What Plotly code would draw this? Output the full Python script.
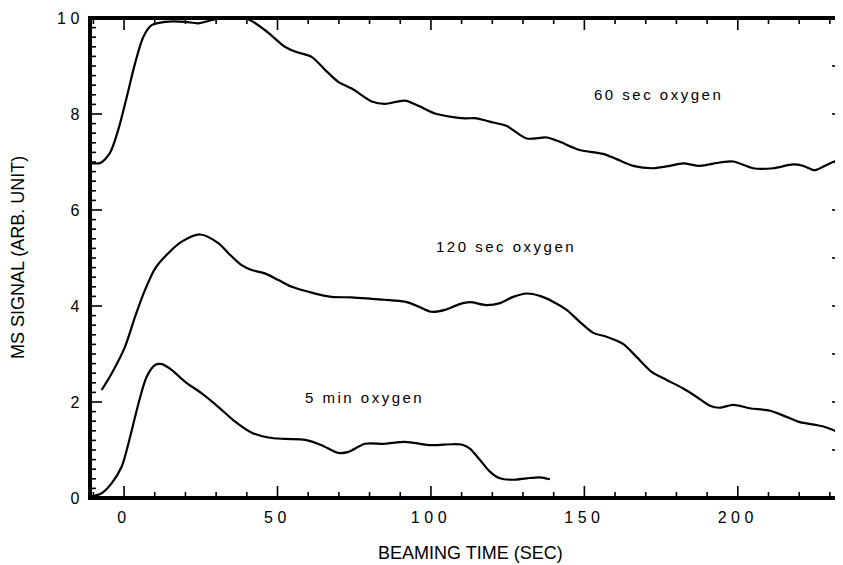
import plotly.graph_objects as go

# ---- data ----
t_60 = [-11.0, -7.8, -4.6, -1.9, 0.9, 3.6, 6.3, 9.0, 13.4, 19.9, 24.2, 29.6, 35.1, 40.5, 45.9,
        52.4, 55.7, 61.1, 65.5, 69.8, 74.2, 80.7, 85.0, 91.5, 95.9, 101.3, 106.7, 111.1, 114.9,
        119.2, 124.7, 131.2, 137.7, 142.0, 148.5, 156.1, 160.5, 165.9, 172.4, 177.9, 182.2,
        187.6, 194.1, 198.5, 205.0, 211.5, 218.0, 221.3, 225.1, 228.9, 233.2]
s_60 = [6.98, 6.98, 7.19, 7.67, 8.36, 9.06, 9.61, 9.85, 9.92, 9.92, 9.89, 9.97, 9.99, 9.97, 9.75,
        9.40, 9.30, 9.19, 8.92, 8.67, 8.53, 8.26, 8.21, 8.28, 8.17, 8.01, 7.94, 7.91, 7.91,
        7.84, 7.75, 7.49, 7.51, 7.42, 7.25, 7.17, 7.06, 6.92, 6.87, 6.92, 6.97,
        6.92, 6.99, 7.01, 6.87, 6.87, 6.95, 6.92, 6.83, 6.94, 7.06]

t_120 = [-7.3, -4.0, 0.3, 3.6, 6.8, 10.1, 14.4, 18.8, 24.8, 30.7, 34.0, 38.3, 41.6, 45.9, 50.3,
         54.6, 61.1, 67.6, 74.2, 80.7, 85.0, 91.5, 95.9, 100.2, 104.6, 109.4, 112.7, 118.1,
         122.5, 126.8, 131.2, 135.5, 139.8, 144.2, 148.5, 152.9, 157.2, 162.6, 167.0, 171.9,
         176.8, 182.2, 186.5, 190.9, 194.1, 198.5, 203.9, 210.4, 215.9, 220.2, 225.6, 228.9, 232.7]
s_120 = [2.25, 2.60, 3.15, 3.78, 4.33, 4.78, 5.10, 5.34, 5.49, 5.31, 5.10, 4.85, 4.75, 4.68, 4.54,
         4.40, 4.28, 4.19, 4.18, 4.15, 4.13, 4.09, 3.99, 3.88, 3.92, 4.04, 4.08, 4.02,
         4.06, 4.19, 4.26, 4.21, 4.09, 3.92, 3.67, 3.44, 3.36, 3.21, 2.94, 2.63,
         2.46, 2.28, 2.11, 1.92, 1.88, 1.94, 1.87, 1.82, 1.69, 1.58, 1.52, 1.47, 1.37]

t_5min = [-10.5, -7.3, -4.0, -0.8, 2.0, 4.7, 7.4, 10.1, 12.3, 15.5, 19.9, 25.3, 30.7, 36.2, 41.6,
          47.0, 52.4, 59.0, 64.4, 69.8, 73.1, 78.5, 85.0, 91.5, 100.2, 106.7, 110.2, 112.7,
          116.0, 119.2, 122.5, 126.8, 131.2, 135.5, 138.8]
s_5min = [0.03, 0.10, 0.31, 0.65, 1.28, 1.97, 2.53, 2.77, 2.79, 2.67, 2.42, 2.18, 1.90, 1.59, 1.36,
          1.26, 1.23, 1.21, 1.10, 0.94, 0.96, 1.13, 1.13, 1.17, 1.10, 1.12, 1.11, 1.03,
          0.79, 0.55, 0.41, 0.38, 0.41, 0.43, 0.39]

x_tick_text = ["0", "50", "100", "150", "200"]
y_tick_text = ["0", "2", "4", "6", "8", "10"]
x_range = [-11.1, 233.3]
y_range = [0, 10]
x_major_ticks = [0, 50, 100, 150, 200]
x_minor_ticks = [-10, 10, 20, 30, 40, 60, 70, 80, 90, 110, 120, 130, 140,
                 160, 170, 180, 190, 210, 220, 230]
y_major_ticks = [0, 2, 4, 6, 8, 10]
y_minor_ticks = [round(0.2 * i, 1) for i in range(51) if i % 10 != 0]
y_right_ticks = [0, 1, 2, 3, 4, 5, 6, 7, 8, 9, 10]

curve_labels = ["60 sec oxygen", "120 sec oxygen", "5 min oxygen"]
curve_label_t = [174.0, 124.4, 78.5]
curve_label_s = [8.40, 5.25, 2.10]

x_title = "BEAMING TIME (SEC)"
y_title = "MS SIGNAL (ARB. UNIT)"

FONT = "Liberation Sans, Arial, Helvetica, sans-serif"
PLOT_W, PLOT_H = 750, 480  # plot-area size in px
XPX = (x_range[1] - x_range[0]) / PLOT_W  # data units per px
YPX = (y_range[1] - y_range[0]) / PLOT_H


def spaced(s, px):
    return f"<span style='letter-spacing:{px}px'>{s}</span>"


def segs(pairs):
    xs, ys = [], []
    for (xa, ya), (xb, yb) in pairs:
        xs += [xa, xb, None]
        ys += [ya, yb, None]
    return xs, ys


fig = go.Figure()
for t, s in [(t_60, s_60), (t_120, s_120), (t_5min, s_5min)]:
    fig.add_trace(go.Scatter(x=t, y=s, mode="lines",
                             line=dict(color="black", width=2.2, shape="spline", smoothing=0.8),
                             showlegend=False, hoverinfo="skip"))

# ---- axis frame and tick marks drawn as line traces on the same scales ----
x0, x1 = x_range
y0, y1 = y_range
fig.add_trace(go.Scatter(x=[x1, x0, x0, x1], y=[y1, y1, y0, y0], mode="lines",
                         line=dict(color="black", width=4), showlegend=False, hoverinfo="skip"))
tick_pairs = []
for v in x_major_ticks + x_minor_ticks:
    h = (12 if v in x_major_ticks else 6) * YPX
    tick_pairs.append(((v, y0), (v, y0 + h)))
    tick_pairs.append(((v, y1), (v, y1 - h)))
for v in y_major_ticks + y_minor_ticks:
    w = (12 if v in y_major_ticks else 6) * XPX
    tick_pairs.append(((x0, v), (x0 + w, v)))
for v in y_right_ticks:
    tick_pairs.append(((x1, v), (x1 - 8 * XPX, v)))
tx, ty = segs(tick_pairs)
fig.add_trace(go.Scatter(x=tx, y=ty, mode="lines", line=dict(color="black", width=1.6),
                         showlegend=False, hoverinfo="skip"))
dx, dy = segs([((x1, v), (x1 - 2.5 * XPX, v)) for v in y_minor_ticks])
fig.add_trace(go.Scatter(x=dx, y=dy, mode="lines", line=dict(color="black", width=1.2),
                         showlegend=False, hoverinfo="skip"))

for txt, tx_, sy in zip(curve_labels, curve_label_t, curve_label_s):
    fig.add_annotation(x=tx_, y=sy, text=spaced(txt, 2.5), showarrow=False,
                       font=dict(family=FONT, size=15, color="black"))

fig.add_annotation(x=0.507, y=-0.1146, xref="paper", yref="paper", text=x_title,
                   showarrow=False, xanchor="center", yanchor="middle",
                   font=dict(family=FONT, size=18, color="black"))
fig.add_annotation(x=-0.096, y=0.5, xref="paper", yref="paper", text=y_title,
                   showarrow=False, xanchor="center", yanchor="middle", textangle=-90,
                   font=dict(family=FONT, size=18, color="black"))

fig.update_layout(
    width=835, height=557,
    margin=dict(l=82, r=3, t=10, b=67),
    paper_bgcolor="white", plot_bgcolor="white",
    font=dict(family=FONT, color="black"),
    xaxis=dict(range=x_range, tickmode="linear", tick0=0, dtick=50,
               labelalias={v: spaced(v, 4.5) for v in x_tick_text},
               ticks="", showline=True, linewidth=2, linecolor="black", mirror=True,
               showgrid=False, zeroline=False,
               tickfont=dict(size=16), ticklabelstandoff=4),
    yaxis=dict(range=y_range, tickmode="linear", tick0=0, dtick=2,
               labelalias={v: spaced(v, 4.5) for v in y_tick_text},
               ticks="", showline=True, linewidth=2, linecolor="black",
               showgrid=False, zeroline=False,
               tickfont=dict(size=16), ticklabelstandoff=1),
)

fig.write_html("out.html")
